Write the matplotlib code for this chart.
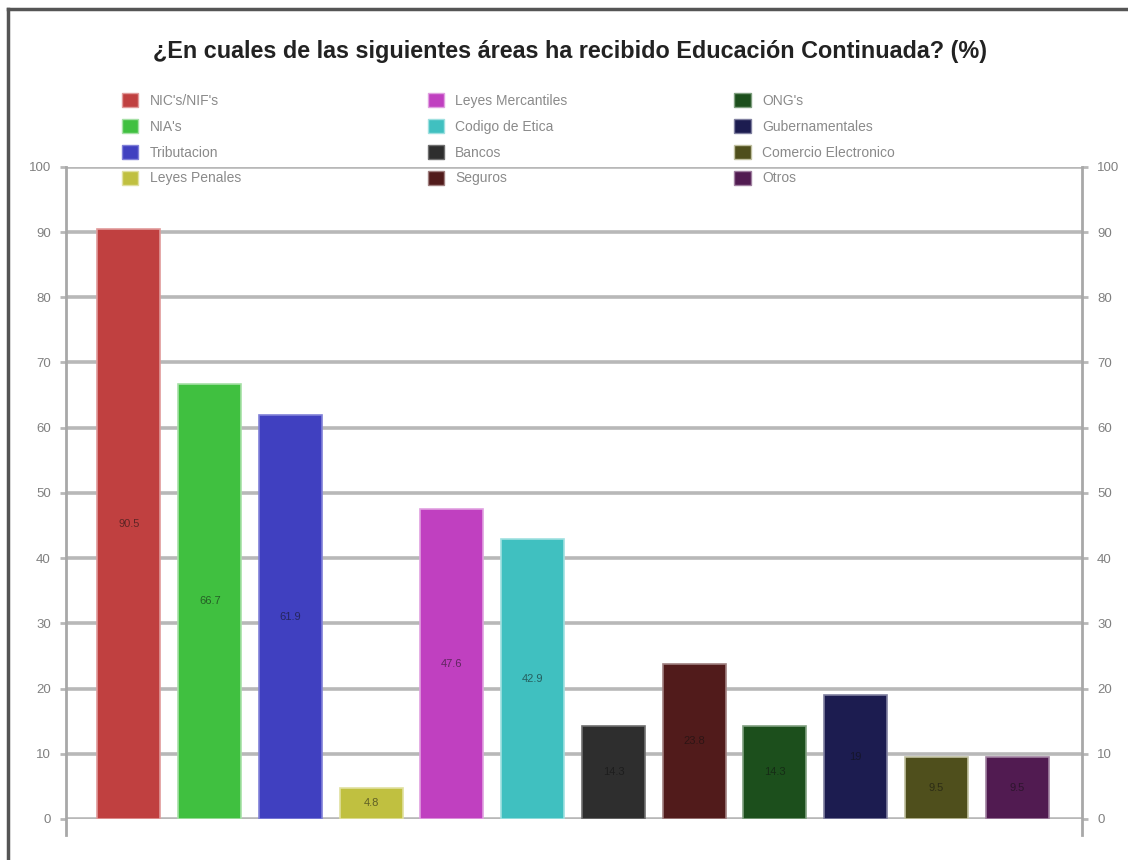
import matplotlib.pyplot as plt
from matplotlib.lines import Line2D
from matplotlib.patches import Patch

plt.rcParams['font.family'] = ['Liberation Sans', 'DejaVu Sans']

categories = ["NIC's/NIF's", "NIA's", "Tributacion", "Leyes Penales",
              "Leyes Mercantiles", "Codigo de Etica", "Bancos", "Seguros",
              "ONG's", "Gubernamentales", "Comercio Electronico", "Otros"]
values = [90.5, 66.7, 61.9, 4.8, 47.6, 42.9, 14.3, 23.8, 14.3, 19, 9.5, 9.5]
value_labels = ["90.5", "66.7", "61.9", "4.8", "47.6", "42.9",
                "14.3", "23.8", "14.3", "19", "9.5", "9.5"]
colors = ["#c04040", "#40c040", "#4040c0", "#c0c040", "#c040c0", "#40c0c0",
          "#2e2e2e", "#511b1b", "#1c4f1c", "#1c1c50", "#4f4f1c", "#511b51"]
edges = ["#e09a9a", "#a6e0a6", "#8080d8", "#e0e0a0", "#e0a0e0", "#a0e0e0",
         "#707070", "#a08080", "#80a080", "#8080a0", "#c0c0a0", "#a080a0"]
yticks = list(range(0, 101, 10))

fig = plt.figure(figsize=(11.28, 8.6), dpi=100)
ax = fig.add_axes([0.0585, 0.0477, 0.9005, 0.7583])

x = list(range(len(values)))
ax.bar(x, values, width=0.78, color=colors, edgecolor=edges, linewidth=1.2, zorder=3)
for xi, v, lab in zip(x, values, value_labels):
    ax.text(xi, v / 2, lab, ha='center', va='center', fontsize=8,
            color='#101010', alpha=0.55, zorder=4)

ax.set_xlim(-0.78, 11.8)
ax.set_yticks(yticks)
ax.set_xticks([])
ax.yaxis.grid(True, color='#b8b8b8', linewidth=2.6, zorder=0)
ax.tick_params(axis='y', left=True, right=True, labelleft=True, labelright=True,
               direction='out', length=4, width=2, color='#b8b8b8',
               labelsize=9.5, labelcolor='#808080', pad=7)
for side in ['top', 'bottom']:
    ax.spines[side].set_visible(False)
for side in ['left', 'right']:
    ax.spines[side].set_color('#a8a8a8')
    ax.spines[side].set_linewidth(2)
    ax.spines[side].set_bounds(-2.5, 100)
    ax.spines[side].set_clip_on(False)
ax.set_ylim(0, 100)

fig.text(0.505, 0.940, "¿En cuales de las siguientes áreas ha recibido Educación Continuada? (%)",
         ha='center', va='center', fontsize=16.8, fontweight='bold', color='#222222')

# legend in three columns of four entries
col_x = [0.108, 0.379, 0.651]
for c in range(3):
    idx = range(c * 4, c * 4 + 4)
    handles = [Patch(facecolor=colors[i], edgecolor=edges[i], linewidth=1) for i in idx]
    leg = fig.legend(handles, [categories[i] for i in idx], loc='upper left',
                     bbox_to_anchor=(col_x[c], 0.892), frameon=False, fontsize=10,
                     handlelength=1.2, handleheight=1.2, handletextpad=0.8,
                     labelspacing=0.8, borderpad=0, borderaxespad=0)
    for t in leg.get_texts():
        t.set_color('#8a8a8a')

# window border along the top and left
fig.add_artist(Line2D([0.007, 1.0], [0.9895, 0.9895], color='#555555', linewidth=2.5))
fig.add_artist(Line2D([0.0075, 0.0075], [0.0, 0.9895], color='#555555', linewidth=2.5))

fig.savefig('out.png', dpi=100, facecolor='white')
